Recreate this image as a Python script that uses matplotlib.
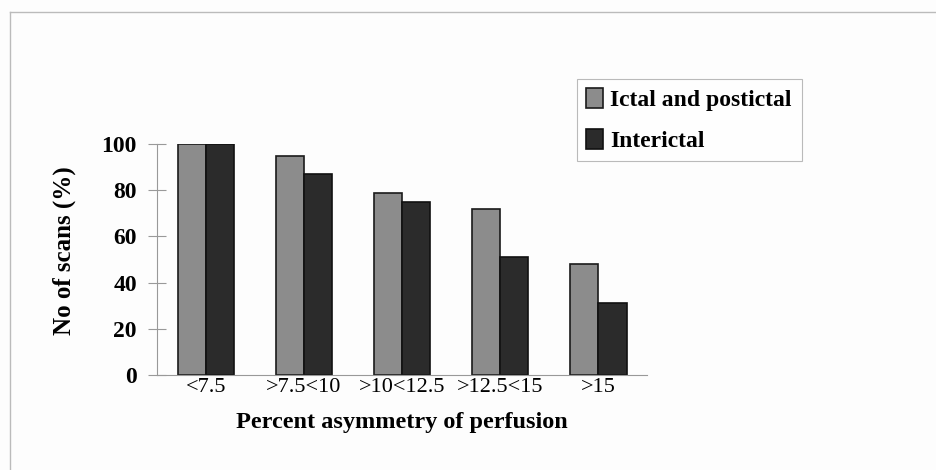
import matplotlib.pyplot as plt
from matplotlib.lines import Line2D
import numpy as np

categories = ['<7.5', '>7.5<10', '>10<12.5', '>12.5<15', '>15']
ictal = [100, 95, 79, 72, 48]
interictal = [100, 87, 75, 51, 31]
series_names = ['Ictal and postictal', 'Interictal']
yticks = [0, 20, 40, 60, 80, 100]

plt.rcParams['font.family'] = ['Liberation Serif', 'DejaVu Serif']

fig = plt.figure(figsize=(9.37, 4.70), dpi=100, facecolor='#fdfdfd')
ax = fig.add_axes([0.1676, 0.2021, 0.523, 0.4915])
ax.set_facecolor('#fdfdfd')

x = np.arange(len(categories))
w = 0.29
ax.bar(x - w / 2, ictal, w, color='#8c8c8c', edgecolor='#1a1a1a', linewidth=1.2,
       label=series_names[0])
ax.bar(x + w / 2, interictal, w, color='#2b2b2b', edgecolor='#111111', linewidth=1.2,
       label=series_names[1])

ax.set_xlim(-0.5, len(categories) - 0.5)
ax.set_ylim(0, 100)
ax.set_yticks(yticks)
ax.set_yticklabels([str(v) for v in yticks], fontsize=17, fontweight='bold')
ax.set_xticks(x)
ax.set_xticklabels(categories, fontsize=16)
ax.tick_params(axis='y', direction='inout', length=13, width=0.8, color='#999999', pad=8)
ax.tick_params(axis='x', length=0, pad=2)

for s in ['top', 'right']:
    ax.spines[s].set_visible(False)
for s in ['left', 'bottom']:
    ax.spines[s].set_color('#999999')
    ax.spines[s].set_linewidth(0.8)

ax.set_xlabel('Percent asymmetry of perfusion', fontsize=17.5, fontweight='bold', labelpad=11)
ax.set_ylabel('No of scans (%)', fontsize=18, fontweight='bold')
ax.yaxis.set_label_coords(-0.166, 0.537)

leg = ax.legend(loc='upper left', bbox_to_anchor=(0.6158, 0.653, 0.240, 0.179),
                bbox_transform=fig.transFigure, mode='expand',
                prop={'weight': 'bold', 'size': 17},
                frameon=True, fancybox=False, edgecolor='#aaaaaa',
                handlelength=0.7, handleheight=0.9, handletextpad=0.3,
                borderpad=0.4, labelspacing=0.75, borderaxespad=0)
leg.get_frame().set_linewidth(0.8)

# outer frame lines of the original figure
fig.add_artist(Line2D([10 / 937, 10 / 937], [0, 1 - 12 / 470], color='#bbbbbb', lw=1))
fig.add_artist(Line2D([10 / 937, 1], [1 - 12 / 470, 1 - 12 / 470], color='#bbbbbb', lw=1))

fig.savefig('out.png', dpi=100, facecolor=fig.get_facecolor())
